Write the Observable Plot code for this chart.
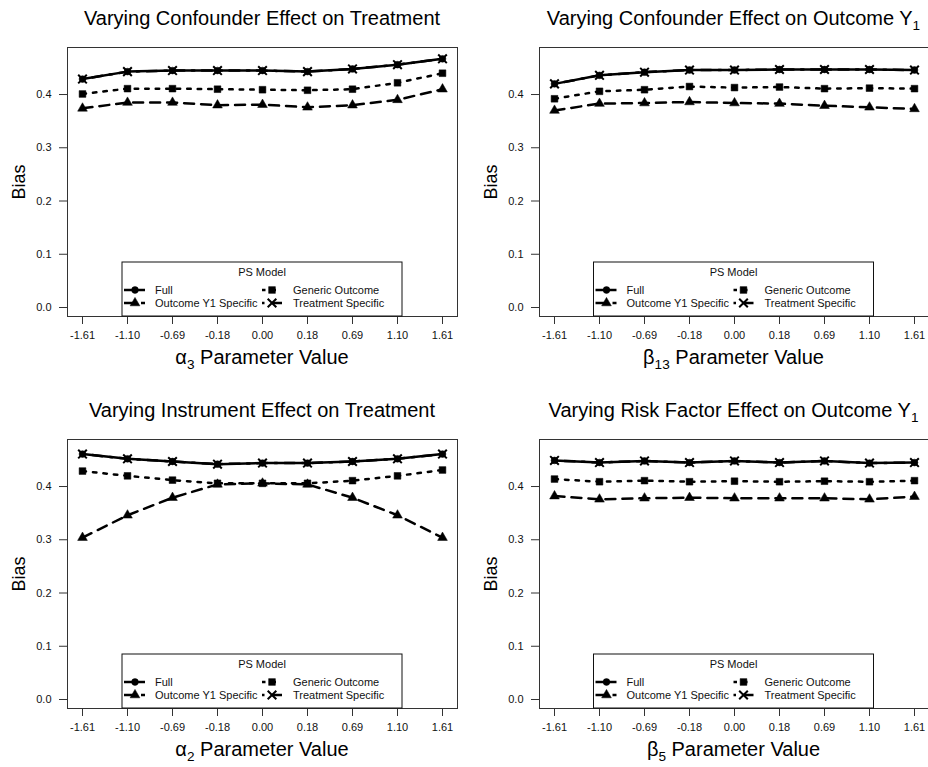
<!DOCTYPE html>
<html>
<head>
<meta charset="utf-8">
<script src="https://cdn.jsdelivr.net/npm/d3@7"></script>
<script src="https://cdn.jsdelivr.net/npm/@observablehq/plot@0.6"></script>
<style>
  body { margin: 0; background: #fff; font-family: "Liberation Sans", Arial, sans-serif; }
  #wrap { position: relative; width: 928px; height: 767px; overflow: hidden; background: #fff; }
  .panel { position: absolute; }
  .lbl { position: absolute; white-space: nowrap; transform: translate(-50%, -50%); color: #000; line-height: 1; }
  .title { font-size: 20px; }
  .xlab { font-size: 20px; }
  .ylab { font-size: 18px; transform: translate(-50%, -50%) rotate(-90deg); }
  sub { font-size: 68%; vertical-align: -0.35em; line-height: 0; }
</style>
</head>
<body>
<div id="wrap"></div>
<script>
// ---------------- data ----------------
const xTickLabels = ["-1.61", "-1.10", "-0.69", "-0.18", "0.00", "0.18", "0.69", "1.10", "1.61"];
const yTicks = [0, 0.1, 0.2, 0.3, 0.4];
const seriesNames = ["Full", "Outcome Y1 Specific", "Generic Outcome", "Treatment Specific"];

// Panel 1: alpha3 (confounder effect on treatment)
const a3Full      = [0.429, 0.443, 0.445, 0.445, 0.445, 0.443, 0.448, 0.456, 0.467];
const a3Outcome   = [0.374, 0.385, 0.385, 0.380, 0.381, 0.376, 0.380, 0.390, 0.410];
const a3Generic   = [0.401, 0.411, 0.411, 0.410, 0.409, 0.408, 0.410, 0.422, 0.440];
const a3Treatment = [0.429, 0.443, 0.445, 0.445, 0.445, 0.443, 0.448, 0.456, 0.467];

// Panel 2: beta13 (confounder effect on outcome Y1)
const b13Full      = [0.420, 0.436, 0.442, 0.446, 0.446, 0.447, 0.447, 0.447, 0.446];
const b13Outcome   = [0.370, 0.383, 0.384, 0.386, 0.384, 0.383, 0.379, 0.376, 0.373];
const b13Generic   = [0.392, 0.406, 0.409, 0.415, 0.413, 0.414, 0.411, 0.412, 0.411];
const b13Treatment = [0.420, 0.436, 0.442, 0.446, 0.446, 0.447, 0.447, 0.447, 0.446];

// Panel 3: alpha2 (instrument effect on treatment)
const a2Full      = [0.461, 0.452, 0.447, 0.442, 0.444, 0.444, 0.447, 0.452, 0.461];
const a2Outcome   = [0.304, 0.346, 0.379, 0.404, 0.406, 0.404, 0.379, 0.346, 0.304];
const a2Generic   = [0.429, 0.420, 0.412, 0.406, 0.406, 0.406, 0.411, 0.420, 0.431];
const a2Treatment = [0.461, 0.452, 0.447, 0.442, 0.444, 0.444, 0.447, 0.452, 0.461];

// Panel 4: beta5 (risk factor effect on outcome Y1)
const b5Full      = [0.449, 0.445, 0.448, 0.445, 0.448, 0.445, 0.448, 0.444, 0.445];
const b5Outcome   = [0.382, 0.376, 0.378, 0.379, 0.378, 0.378, 0.378, 0.376, 0.381];
const b5Generic   = [0.414, 0.409, 0.411, 0.409, 0.410, 0.409, 0.410, 0.409, 0.411];
const b5Treatment = [0.449, 0.445, 0.448, 0.445, 0.448, 0.445, 0.448, 0.444, 0.445];

// ---------------- styles per series ----------------
const seriesStyle = {
  "Full":                {dash: null,             symbol: "circle",   r: 3.4, fill: true},
  "Outcome Y1 Specific": {dash: "10,7",           symbol: "triangle", r: 3.6, fill: true},
  "Generic Outcome":     {dash: "3.5,7",          symbol: "square",   r: 3.8, fill: true},
  "Treatment Specific":  {dash: "2.5,7.5,10,7.5", symbol: "times",    r: 4,   fill: false}
};
const LW = 2.5;

const panels = [
  {left: 0,   top: 0,   mL: 67, mR: 7, title: "Varying Confounder Effect on Treatment",
   xlab: "α<sub>3</sub> Parameter Value", series: [a3Full, a3Outcome, a3Generic, a3Treatment]},
  {left: 464, top: 0,   mL: 75, mR: 0, title: "Varying Confounder Effect on Outcome Y<sub>1</sub>",
   xlab: "β<sub>13</sub> Parameter Value", series: [b13Full, b13Outcome, b13Generic, b13Treatment]},
  {left: 0,   top: 392, mL: 67, mR: 7, title: "Varying Instrument Effect on Treatment",
   xlab: "α<sub>2</sub> Parameter Value", series: [a2Full, a2Outcome, a2Generic, a2Treatment]},
  {left: 464, top: 392, mL: 75, mR: 0, title: "Varying Risk Factor Effect on Outcome Y<sub>1</sub>",
   xlab: "β<sub>5</sub> Parameter Value", series: [b5Full, b5Outcome, b5Generic, b5Treatment]}
];

const W = 464, H = 375, MT = 47, MB = 59;
const wrap = document.getElementById("wrap");

function symbolType(name) {
  return {circle: d3.symbolCircle, triangle: d3.symbolTriangle, square: d3.symbolSquare, times: d3.symbolTimes}[name];
}

panels.forEach(p => {
  const rows = [];
  seriesNames.forEach((s, i) => {
    p.series[i].forEach((v, j) => rows.push({x: xTickLabels[j], y: v, series: s}));
  });
  const order = ["Outcome Y1 Specific", "Generic Outcome", "Full", "Treatment Specific"];
  const dataMarks = [];
  order.forEach(s => {
    const st = seriesStyle[s];
    const d = rows.filter(r => r.series === s);
    dataMarks.push(Plot.line(d, {x: "x", y: "y", stroke: "black", strokeWidth: LW,
      strokeDasharray: st.dash || undefined, strokeLinejoin: "round"}));
  });
  order.forEach(s => {
    const st = seriesStyle[s];
    const d = rows.filter(r => r.series === s);
    dataMarks.push(Plot.dot(d, {x: "x", y: "y", symbol: st.symbol, r: st.r,
      fill: st.fill ? "black" : "none", stroke: "black", strokeWidth: st.fill ? 0.5 : 2}));
  });

  const svg = Plot.plot({
    width: W, height: H,
    marginLeft: p.mL, marginRight: p.mR, marginTop: MT, marginBottom: MB,
    style: {fontFamily: '"Liberation Sans", Arial, sans-serif', fontSize: "11px", color: "#111", background: "white", overflow: "visible"},
    x: {type: "point", domain: xTickLabels, padding: 0.32},
    y: {domain: [-0.0169, 0.4883]},
    marks: [
      Plot.axisX({tickSize: 8, tickPadding: 7, label: null, stroke: "#333"}),
      Plot.axisY({ticks: yTicks, tickFormat: d3.format(".1f"), tickSize: 8, tickPadding: 8, label: null, stroke: "#333"}),
      ...dataMarks,
      Plot.frame({stroke: "#333", strokeWidth: 1})
    ]
  });
  svg.classList.add("panel");
  svg.style.left = p.left + "px";
  svg.style.top = p.top + "px";

  // legend (bottom center inside plot frame)
  const frameW = W - p.mL - p.mR;
  const bw = 280, bh = 54;
  const bx = p.mL + frameW / 2 - bw / 2, by = H - MB - bh;
  const g = d3.select(svg).append("g").attr("transform", `translate(${bx},${by})`)
    .attr("font-family", '"Liberation Sans", Arial, sans-serif').attr("font-size", 11)
    .attr("text-anchor", "start");
  g.append("rect").attr("x", 0).attr("y", 0).attr("width", bw).attr("height", bh)
    .attr("fill", "white").attr("stroke", "#111").attr("stroke-width", 1);
  g.append("text").attr("x", bw / 2).attr("y", 10).attr("text-anchor", "middle")
    .attr("dominant-baseline", "central").attr("fill", "#111").text("PS Model");
  const slots = [
    {s: "Full", col: 0, row: 0}, {s: "Outcome Y1 Specific", col: 0, row: 1},
    {s: "Generic Outcome", col: 1, row: 0}, {s: "Treatment Specific", col: 1, row: 1}
  ];
  const cols = [{l0: 2, m: 13, l1: 23, t: 33}, {l0: 140, m: 150, l1: 161, t: 171}];
  const rowsY = [28, 41];
  slots.forEach(sl => {
    const st = seriesStyle[sl.s], c = cols[sl.col], y = rowsY[sl.row];
    g.append("line").attr("x1", c.l0).attr("x2", c.l1).attr("y1", y).attr("y2", y)
      .attr("stroke", "black").attr("stroke-width", LW).attr("stroke-dasharray", st.dash || null);
    g.append("path").attr("transform", `translate(${c.m},${y})`)
      .attr("d", d3.symbol(symbolType(st.symbol), Math.PI * st.r * st.r)())
      .attr("fill", st.fill ? "black" : "none").attr("stroke", "black").attr("stroke-width", st.fill ? 0.5 : 2);
    g.append("text").attr("x", c.t).attr("y", y).attr("text-anchor", "start")
      .attr("dominant-baseline", "central").attr("fill", "#111").text(sl.s);
  });

  wrap.appendChild(svg);

  const cx = p.left + p.mL + frameW / 2;
  const addLbl = (cls, html, x, y) => {
    const d = document.createElement("div");
    d.className = "lbl " + cls;
    d.innerHTML = html;
    d.style.left = x + "px";
    d.style.top = y + "px";
    wrap.appendChild(d);
  };
  addLbl("title", p.title, cx, p.top + 18);
  addLbl("xlab", p.xlab, cx, p.top + 357);
  addLbl("ylab", "Bias", p.left + p.mL - 48, p.top + MT + (H - MT - MB) / 2);
});
</script>
</body>
</html>
